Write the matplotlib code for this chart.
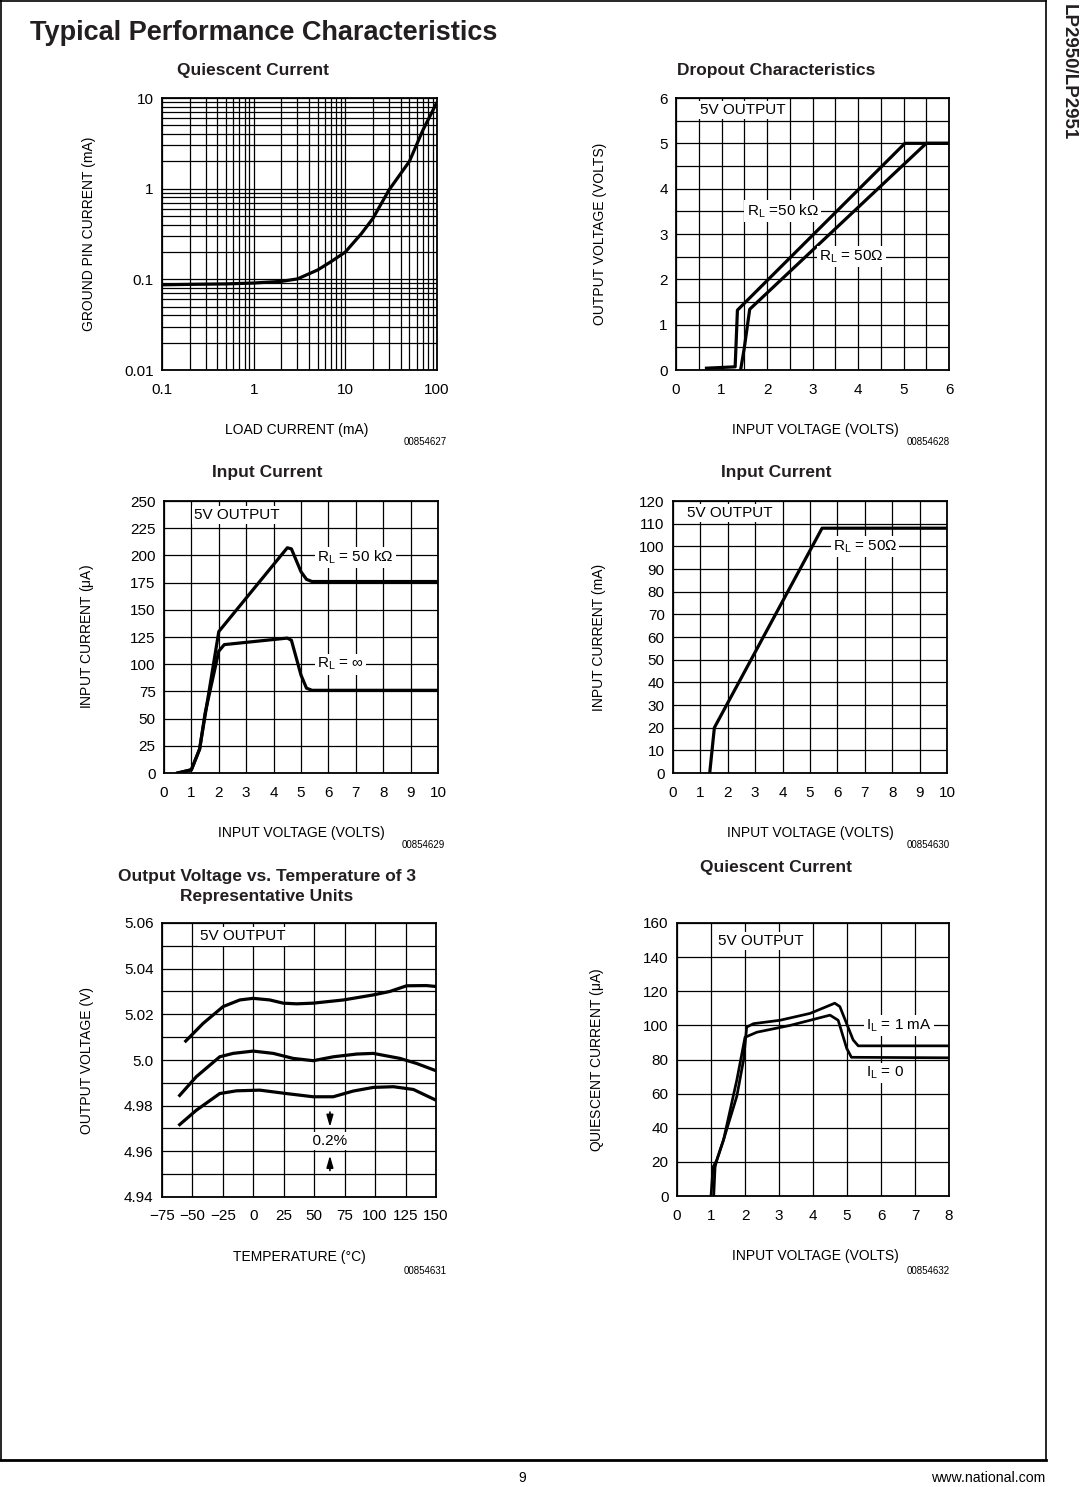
import numpy as np
import matplotlib
matplotlib.use('Agg')
import matplotlib.pyplot as plt
from matplotlib.ticker import LogLocator, MultipleLocator, NullFormatter

plt.rcParams['font.family'] = ['Liberation Sans', 'DejaVu Sans']
plt.rcParams['mathtext.default'] = 'regular'

# %% DATA

# Quiescent current vs load current (log-log)
load_mA = [0.1, 0.2, 0.5, 1, 2, 3, 5, 7, 10, 15, 20, 30, 50, 70, 100]
gnd_mA = [0.087, 0.088, 0.089, 0.091, 0.095, 0.101, 0.127, 0.157, 0.2, 0.32, 0.47, 0.97, 2.0, 4.4, 9.0]

# Dropout characteristics
vin_50k = [0.67, 1.30, 1.35, 5.03, 6.0]
vout_50k = [0.04, 0.07, 1.32, 5.0, 5.0]
vin_50 = [1.42, 1.50, 1.62, 5.50, 6.0]
vout_50 = [0.0, 0.48, 1.34, 5.0, 5.0]

# Input current (uA)
vin_a = [0.5, 1.0, 1.3, 2.0, 4.5, 4.65, 5.0, 5.2, 5.4, 10.0]
iin_50k = [0, 3, 22, 130, 207, 206, 185, 178, 176, 176]
vin_b = [0.5, 1.0, 1.3, 1.5, 2.0, 2.2, 4.5, 4.65, 5.0, 5.2, 5.4, 10.0]
iin_inf = [0, 3, 22, 55, 112, 118, 124, 122, 90, 78, 76, 76]

# Input current (mA), RL = 50 ohm
vin_c = [1.34, 1.51, 5.44, 10.0]
iin_mA = [0, 20, 108, 108]

# Output voltage vs temperature, 3 units
temp_1 = [-55.5, -41.3, -24.8, -11.1, -0.2, 13.5, 24.5, 35.5, 49.2, 74, 98.5, 112, 125.8, 142, 150]
vout_1 = [5.0083, 5.016, 5.0234, 5.0263, 5.027, 5.0263, 5.0249, 5.0246, 5.0249, 5.0263, 5.0285, 5.030, 5.0325, 5.0326, 5.0322]
temp_2 = [-60.5, -46.8, -27.6, -16.6, -0.2, 16.3, 32.7, 49.2, 65.6, 84.8, 98.5, 120.4, 134, 150]
vout_2 = [4.9845, 4.9927, 5.0014, 5.0029, 5.0039, 5.0029, 5.0007, 4.9997, 5.0014, 5.0026, 5.0029, 5.0007, 4.9985, 4.9953]
temp_3 = [-60.5, -46.8, -27.6, -13.9, 5.3, 27.2, 49.2, 65.6, 82, 98.5, 115, 131.4, 150]
vout_3 = [4.9717, 4.978, 4.9853, 4.9865, 4.9868, 4.9853, 4.9839, 4.9839, 4.9864, 4.988, 4.9883, 4.9871, 4.9824]

# Quiescent current vs input voltage (uA)
vin_1m = [1.0, 1.06, 1.17, 1.37, 1.76, 1.96, 2.05, 2.25, 3.03, 3.91, 4.4, 4.64, 4.79, 5.18, 5.33, 8.0]
iq_1m = [0, 17, 21, 33, 58.5, 80, 99, 101, 103, 107, 111, 113, 111, 91.5, 88, 88]
vin_0 = [1.08, 1.12, 1.17, 1.37, 1.76, 2.0, 2.35, 3.33, 4.5, 4.74, 4.99, 5.13, 8.0]
iq_0 = [0, 17, 21, 33, 68, 93, 96, 100, 106, 103, 86.6, 81.3, 81]

# %% FIGURE

W, H = 1080, 1487
fig = plt.figure(figsize=(W / 100, H / 100), dpi=100)

TICK_FS = 11
LAB_FS = 10
CURVE_LW = 2.3


def add_axes_px(l, t, r, b):
    return fig.add_axes([l / W, 1 - b / H, (r - l) / W, (b - t) / H])


def fig_text(x, y, s, **kw):
    fig.text(x / W, 1 - y / H, s, **kw)


def style(ax):
    for sp in ax.spines.values():
        sp.set_linewidth(1.3)
        sp.set_color('k')
    ax.tick_params(which='both', length=0, labelsize=TICK_FS, colors='k')
    ax.tick_params(axis='x', pad=9)
    ax.tick_params(axis='y', pad=6)
    ax.grid(True, which='both', color='k', lw=0.9)
    ax.set_axisbelow(True)


def note(ax, x, y, s, ha='left'):
    ax.text(x, y, s, fontsize=11, ha=ha, va='center', zorder=5,
            bbox=dict(facecolor='white', edgecolor='none', pad=1.5))


# Page frame
fig.add_artist(plt.Line2D([1 / W, 1 / W], [1, 1 - 1460 / H], color='k', lw=1.2))
fig.add_artist(plt.Line2D([1046 / W, 1046 / W], [1, 1 - 1460 / H], color='k', lw=1.2))
fig.add_artist(plt.Line2D([0, 1046 / W], [1 - 1 / H, 1 - 1 / H], color='k', lw=1.2))
fig.add_artist(plt.Line2D([0, 1046 / W], [1 - 1460 / H, 1 - 1460 / H], color='k', lw=2.0))

fig_text(30, 33, 'Typical Performance Characteristics', fontsize=19.5,
         fontweight='bold', ha='left', va='center', color='#231f20')
fig_text(1068, 72, 'LP2950/LP2951', fontsize=13.5, fontweight='bold',
         rotation=-90, ha='center', va='center', color='#231f20')
fig_text(522, 1478, '9', fontsize=10, ha='center', va='center')
fig_text(1045, 1478, 'www.national.com', fontsize=10.2, ha='right', va='center')

# Plot: Quiescent current vs load current
ax = add_axes_px(162, 98, 437, 370)
ax.plot(load_mA, gnd_mA, 'k-', lw=CURVE_LW, solid_capstyle='butt')
ax.set_xscale('log')
ax.set_yscale('log')
ax.set_xlim(0.1, 100)
ax.set_ylim(0.01, 10)
ax.xaxis.set_minor_locator(LogLocator(base=10, subs=np.arange(2, 10)))
ax.yaxis.set_minor_locator(LogLocator(base=10, subs=np.arange(2, 10)))
ax.xaxis.set_minor_formatter(NullFormatter())
ax.yaxis.set_minor_formatter(NullFormatter())
ax.set_xticks([0.1, 1, 10, 100], ['0.1', '1', '10', '100'])
ax.set_yticks([0.01, 0.1, 1, 10], ['0.01', '0.1', '1', '10'])
style(ax)
ax.set_xlabel('LOAD CURRENT (mA)', fontsize=LAB_FS)
ax.xaxis.set_label_coords(0.49, -0.195)
ax.set_ylabel('GROUND PIN CURRENT (mA)', fontsize=LAB_FS)
ax.yaxis.set_label_coords(-0.24, 0.5)
fig_text(253, 70, 'Quiescent Current', fontsize=12.5, fontweight='bold', ha='center', va='center', color='#231f20')
fig_text(447, 442, '00854627', fontsize=7, ha='right', va='center')

# Plot: Dropout characteristics
ax = add_axes_px(676, 98, 949, 370)
ax.plot(vin_50k, vout_50k, 'k-', lw=CURVE_LW)
ax.plot(vin_50, vout_50, 'k-', lw=CURVE_LW)
ax.set_xlim(0, 6)
ax.set_ylim(0, 6)
ax.set_xticks(range(7))
ax.set_yticks(range(7))
ax.xaxis.set_minor_locator(MultipleLocator(0.5))
ax.yaxis.set_minor_locator(MultipleLocator(0.5))
style(ax)
note(ax, 0.53, 5.73, '5V OUTPUT')
note(ax, 1.55, 3.5, 'R$_L$ =50 k\u03a9')
note(ax, 3.15, 2.5, 'R$_L$ = 50\u03a9')
ax.set_xlabel('INPUT VOLTAGE (VOLTS)', fontsize=LAB_FS)
ax.xaxis.set_label_coords(0.51, -0.195)
ax.set_ylabel('OUTPUT VOLTAGE (VOLTS)', fontsize=LAB_FS)
ax.yaxis.set_label_coords(-0.253, 0.5)
fig_text(776, 70, 'Dropout Characteristics', fontsize=12.5, fontweight='bold', ha='center', va='center', color='#231f20')
fig_text(950, 442, '00854628', fontsize=7, ha='right', va='center')

# Plot: Input current (uA)
ax = add_axes_px(164, 501, 438, 773)
ax.plot(vin_a, iin_50k, 'k-', lw=CURVE_LW)
ax.plot(vin_b, iin_inf, 'k-', lw=CURVE_LW)
ax.set_xlim(0, 10)
ax.set_ylim(0, 250)
ax.set_xticks(range(11))
ax.set_yticks(range(0, 251, 25))
style(ax)
note(ax, 1.11, 237, '5V OUTPUT')
note(ax, 5.6, 198, 'R$_L$ = 50 k\u03a9')
note(ax, 5.58, 100, 'R$_L$ = \u221e')
ax.set_xlabel('INPUT VOLTAGE (VOLTS)', fontsize=LAB_FS)
ax.xaxis.set_label_coords(0.5, -0.195)
ax.set_ylabel('INPUT CURRENT ($\\mu$A)', fontsize=LAB_FS)
ax.yaxis.set_label_coords(-0.25, 0.5)
fig_text(267, 473, 'Input Current', fontsize=12.5, fontweight='bold', ha='center', va='center', color='#231f20')
fig_text(445, 845, '00854629', fontsize=7, ha='right', va='center')

# Plot: Input current (mA)
ax = add_axes_px(673, 501, 947, 773)
ax.plot(vin_c, iin_mA, 'k-', lw=CURVE_LW)
ax.set_xlim(0, 10)
ax.set_ylim(0, 120)
ax.set_xticks(range(11))
ax.set_yticks(range(0, 121, 10))
style(ax)
note(ax, 0.51, 114.7, '5V OUTPUT')
note(ax, 5.83, 100, 'R$_L$ = 50\u03a9')
ax.set_xlabel('INPUT VOLTAGE (VOLTS)', fontsize=LAB_FS)
ax.xaxis.set_label_coords(0.5, -0.195)
ax.set_ylabel('INPUT CURRENT (mA)', fontsize=LAB_FS)
ax.yaxis.set_label_coords(-0.245, 0.5)
fig_text(776, 473, 'Input Current', fontsize=12.5, fontweight='bold', ha='center', va='center', color='#231f20')
fig_text(950, 845, '00854630', fontsize=7, ha='right', va='center')

# Plot: Output voltage vs temperature
ax = add_axes_px(162, 923, 436, 1197)
ax.plot(temp_1, vout_1, 'k-', lw=CURVE_LW)
ax.plot(temp_2, vout_2, 'k-', lw=CURVE_LW)
ax.plot(temp_3, vout_3, 'k-', lw=CURVE_LW)
ax.set_xlim(-75, 150)
ax.set_ylim(4.94, 5.06)
ax.set_xticks(range(-75, 151, 25),
              ['\u221275', '\u221250', '\u221225', '0', '25', '50', '75', '100', '125', '150'])
ax.set_yticks([4.94, 4.96, 4.98, 5.0, 5.02, 5.04, 5.06],
              ['4.94', '4.96', '4.98', '5.0', '5.02', '5.04', '5.06'])
ax.yaxis.set_minor_locator(MultipleLocator(0.01))
style(ax)
note(ax, -44, 5.0541, '5V OUTPUT')
note(ax, 62.9, 4.9644, '  0.2%  ', ha='center')
arrow_kw = dict(arrowstyle='-|>,head_length=0.7,head_width=0.2', color='k',
                lw=1.2, shrinkA=0, shrinkB=0)
ax.annotate('', xy=(62.9, 4.9706), xytext=(62.9, 4.9772), arrowprops=arrow_kw)
ax.annotate('', xy=(62.9, 4.9582), xytext=(62.9, 4.9516), arrowprops=arrow_kw)
ax.set_xlabel('TEMPERATURE (\u00b0C)', fontsize=LAB_FS)
ax.xaxis.set_label_coords(0.5, -0.193)
ax.set_ylabel('OUTPUT VOLTAGE (V)', fontsize=LAB_FS)
ax.yaxis.set_label_coords(-0.25, 0.5)
fig_text(267, 876, 'Output Voltage vs. Temperature of 3', fontsize=12.5, fontweight='bold', ha='center', va='center', color='#231f20')
fig_text(267, 896, 'Representative Units', fontsize=12.5, fontweight='bold', ha='center', va='center', color='#231f20')
fig_text(447, 1271, '00854631', fontsize=7, ha='right', va='center')

# Plot: Quiescent current vs input voltage
ax = add_axes_px(677, 923, 949, 1196)
ax.plot(vin_1m, iq_1m, 'k-', lw=CURVE_LW * 0.85)
ax.plot(vin_0, iq_0, 'k-', lw=CURVE_LW * 0.85)
ax.set_xlim(0, 8)
ax.set_ylim(0, 160)
ax.set_xticks(range(9))
ax.set_yticks(range(0, 161, 20))
style(ax)
note(ax, 1.22, 149.3, '5V OUTPUT')
note(ax, 5.57, 100, 'I$_L$ = 1 mA')
note(ax, 5.57, 72, 'I$_L$ = 0')
ax.set_xlabel('INPUT VOLTAGE (VOLTS)', fontsize=LAB_FS)
ax.xaxis.set_label_coords(0.51, -0.195)
ax.set_ylabel('QUIESCENT CURRENT ($\\mu$A)', fontsize=LAB_FS)
ax.yaxis.set_label_coords(-0.26, 0.5)
fig_text(776, 868, 'Quiescent Current', fontsize=12.5, fontweight='bold', ha='center', va='center', color='#231f20')
fig_text(950, 1271, '00854632', fontsize=7, ha='right', va='center')

fig.savefig('out.png', dpi=100, facecolor='white')
